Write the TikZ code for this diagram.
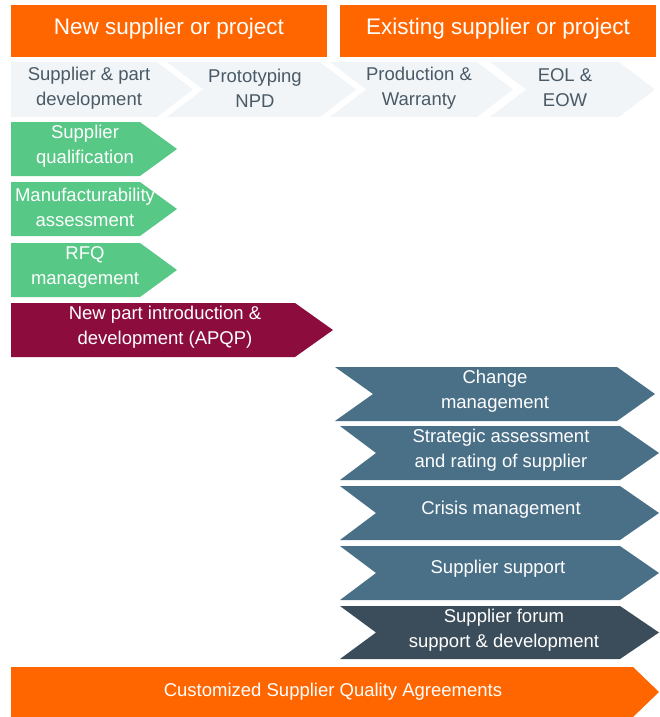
\documentclass[tikz,border=0pt]{standalone}
\usepackage{fontspec}
\setmainfont{Liberation Sans}
\definecolor{hdrorange}{HTML}{FF6600}
\definecolor{phasebg}{HTML}{F1F5F8}
\definecolor{phasetxt}{HTML}{4A5A66}
\definecolor{grn}{HTML}{57C886}
\definecolor{maroon}{HTML}{8C0D3D}
\definecolor{steel}{HTML}{4A7088}
\definecolor{darksteel}{HTML}{3B4D5A}
\newcommand{\chevshape}[7]{%
  \fill[#1] (#2,#3) -- ({#4-#6},#3) -- (#4,{(#3+#5)/2}) -- ({#4-#6},#5) -- (#2,#5) -- ({#2+#7},{(#3+#5)/2}) -- cycle;}
\begin{document}
\begin{tikzpicture}[x=1pt,y=-1pt,
  hdrtext/.style={text=white,font=\fontsize{22.5}{26}\selectfont},
  phasetext/.style={text=phasetxt,align=center,font=\fontsize{18.5}{25}\selectfont},
  boxtext/.style={text=white,align=center,font=\fontsize{18.5}{25}\selectfont},
  bottext/.style={text=white,font=\fontsize{18.5}{22}\selectfont}]
\useasboundingbox (0,0) rectangle (660,717);
% headers
\fill[hdrorange] (11,5) rectangle (327,57);
\fill[hdrorange] (340,5) rectangle (656,57);
\node[hdrtext] (hnew) at (169,29) {New supplier or project};
\node[hdrtext] (hexist) at (498,29) {Existing supplier or project};
% phases
\chevshape{phasebg}{11}{62}{193}{117}{36}{0}
\chevshape{phasebg}{167}{62}{356}{117}{36}{36}
\chevshape{phasebg}{330}{62}{513}{117}{36}{36}
\chevshape{phasebg}{490}{62}{655}{117}{36}{36}
\node[phasetext] (p1) at (89,88) {Supplier \& part\\development};
\node[phasetext] (p2) at (255,88) {Prototyping\\NPD};
\node[phasetext] (p3) at (419,88) {Production \&\\Warranty};
\node[phasetext] (p4) at (565,88) {EOL \&\\EOW};
% green
\chevshape{grn}{11}{122}{177}{176}{37}{0}
\chevshape{grn}{11}{182}{177}{236}{37}{0}
\chevshape{grn}{11}{243}{177}{297}{37}{0}
\node[boxtext] (g1) at (85,146) {Supplier\\qualification};
\node[boxtext] (g2) at (85,207) {Manufacturability\\assessment};
\node[boxtext] (g3) at (85,267) {RFQ\\management};
% maroon
\chevshape{maroon}{11}{303}{333}{357}{38}{0}
\node[boxtext] (m1) at (165,327) {New part introduction \&\\development (APQP)};
% steel
\chevshape{steel}{335}{367}{655}{421}{38}{38}
\chevshape{steel}{340}{426}{659}{480}{39}{36}
\chevshape{steel}{340}{486}{659}{540}{39}{36}
\chevshape{steel}{340}{546}{659}{600}{39}{36}
\chevshape{darksteel}{340}{606}{659}{659}{39}{36}
\node[boxtext] (s1) at (495,391) {Change\\management};
\node[boxtext] (s2) at (501,450) {Strategic assessment\\and rating of supplier};
\node[boxtext] (s3) at (501,510) {Crisis management};
\node[boxtext] (s4) at (498,569) {Supplier support};
\node[boxtext] (s5) at (504,630) {Supplier forum\\support \& development};
% bottom
\chevshape{hdrorange}{11}{667}{659}{717}{26}{0}
\node[bottext] (b1) at (333,692) {Customized Supplier Quality Agreements};
\end{tikzpicture}
\end{document}
